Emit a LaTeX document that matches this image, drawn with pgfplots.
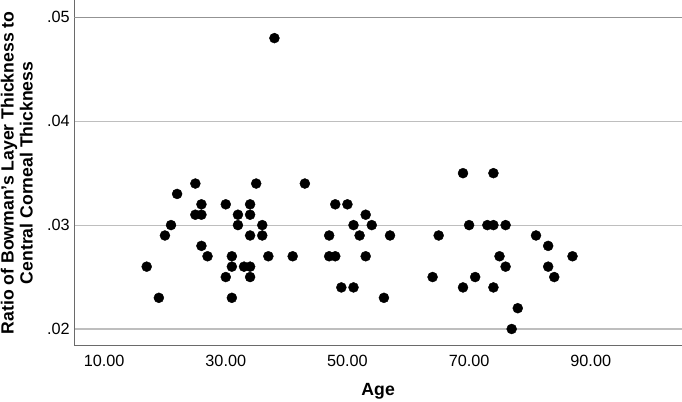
\documentclass[border=0pt]{standalone}
\usepackage{fontspec}
\setmainfont{Liberation Sans}
\usepackage{pgfplots}
\pgfplotsset{compat=1.18}
\definecolor{gridc}{HTML}{BEBEBE}
\definecolor{axc}{HTML}{6A6A6A}
\pgfplotstableread{
age ratio
17 .026
19 .023
20 .029
21 .030
22 .033
25 .034
25 .031
26 .031
26 .032
26 .028
27 .027
30 .032
30 .025
31 .027
31 .026
31 .023
32 .031
32 .030
33 .026
34 .032
34 .031
34 .029
34 .026
34 .025
35 .034
36 .030
36 .029
37 .027
38 .048
41 .027
43 .034
47 .029
47 .027
48 .032
48 .027
49 .024
50 .032
51 .030
51 .024
52 .029
53 .031
53 .027
54 .030
56 .023
57 .029
64 .025
65 .029
69 .035
69 .024
70 .030
71 .025
73 .030
74 .035
74 .030
74 .024
75 .027
76 .030
76 .026
77 .020
78 .022
81 .029
83 .028
83 .026
84 .025
87 .027
}\datatable
\begin{document}
\begin{tikzpicture}
\begin{axis}[
  name=ax,
  scale only axis,
  width=607.7bp, height=345.7bp,
  xmin=5.1, xmax=105,
  ymin=0.01839, ymax=0.05167,
  axis x line*=bottom, axis y line*=left,
  axis line style={draw=axc, line width=1bp},
  xtick={10,30,50,70,90},
  xticklabels={10.00,30.00,50.00,70.00,90.00},
  ytick={0.02,0.03,0.04},
  yticklabels={.02,.03,.04},
  extra y ticks={0.05},
  extra y tick labels={.05},
  extra y tick style={grid style={draw=gray!85, line width=1.2bp}},
  major tick length=0pt,
  ymajorgrids,
  grid style={draw=gridc, line width=1.2bp},
  tick label style={font=\fontsize{16.3}{18}\selectfont},
  xticklabel style={yshift=-6bp},
  yticklabel style={xshift=-1bp},
  scaled y ticks=false,
  xlabel={Age},
  ylabel={Ratio of Bowman's Layer Thickness to\\Central Corneal Thickness},
  label style={font=\bfseries\fontsize{17.7}{19}\selectfont},
  xlabel style={at={(axis description cs:0.5,0)}, anchor=base, yshift=-49.3bp, inner sep=0pt},
  ylabel style={at={(axis description cs:-0.068,0.5)}, anchor=south, rotate=0, align=center, inner sep=0pt},
  clip=true,
]
\addplot[only marks, mark=*, mark size=5bp, mark options={fill=black, draw=black}] table[x=age, y=ratio] {\datatable};
\end{axis}
\pgfresetboundingbox
\path[use as bounding box] ([xshift=-74.3bp,yshift=-55.3bp]ax.south west) rectangle (ax.north east);
\end{tikzpicture}
\end{document}
